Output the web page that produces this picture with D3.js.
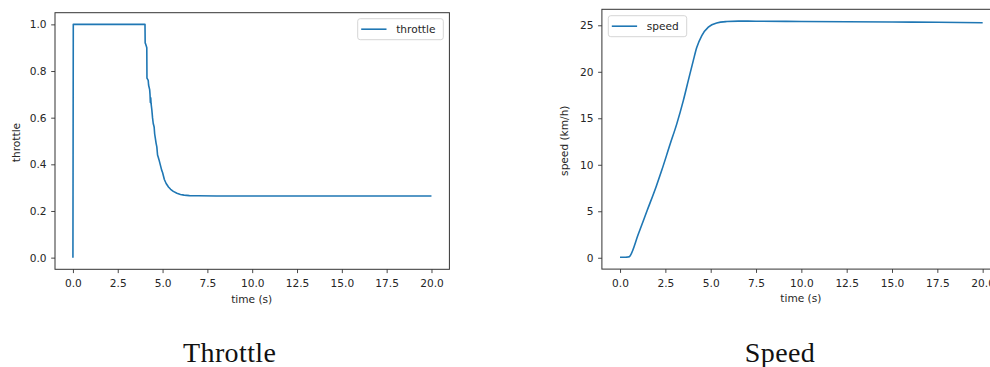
<!DOCTYPE html>
<html><head><meta charset="utf-8">
<script src="https://cdn.jsdelivr.net/npm/d3@7"></script>
<style>
html,body{margin:0;padding:0;background:#fff;overflow:hidden;}
svg{display:block;font-family:"DejaVu Sans",sans-serif;}
</style></head><body>
<svg id="fig" width="990" height="367"></svg>
<script>
// Throttle command over the run (s, fraction 0..1)
const throttleTime = [0, 0.02, 4.02, 4.03, 4.06, 4.10, 4.12, 4.13, 4.20, 4.22, 4.28, 4.30, 4.32, 4.34, 4.36,
  4.40, 4.44, 4.48, 4.53, 4.56, 4.60, 4.64, 4.68, 4.72, 4.76, 4.80, 4.85, 4.90, 4.95, 5.00, 5.05, 5.10,
  5.20, 5.33, 5.45, 5.60, 5.80, 6.00, 6.20, 6.50, 7.00, 8.00, 20.0];
const throttleValues = [0, 1, 1, 0.92, 0.915, 0.905, 0.90, 0.77, 0.76, 0.74, 0.72, 0.70, 0.665, 0.685, 0.66,
  0.635, 0.60, 0.575, 0.56, 0.53, 0.51, 0.49, 0.475, 0.44, 0.43, 0.42, 0.405, 0.39, 0.375, 0.365, 0.35, 0.335,
  0.318, 0.303, 0.293, 0.284, 0.276, 0.271, 0.268, 0.266, 0.265, 0.2645, 0.264];

// Vehicle speed over the run (s, km/h)
const speedTime = [0, 0.2, 0.4, 0.5, 0.55, 1.0, 1.5, 2.0, 2.3, 2.76, 3.13, 3.49, 3.77, 4.04, 4.23, 4.51,
  4.87, 5.33, 5.89, 6.53, 7.5, 10, 12.5, 15, 17.5, 20];
const speedValues = [0.05, 0.05, 0.07, 0.1, 0.2, 2.5, 5.1, 7.7, 9.4, 12.2, 14.4, 16.9, 19.1, 21.2, 22.6, 23.9,
  24.8, 25.25, 25.4, 25.45, 25.44, 25.41, 25.38, 25.35, 25.32, 25.28];

const timeTicks = [0, 2.5, 5, 7.5, 10, 12.5, 15, 17.5, 20];
const throttleTicks = [0, 0.2, 0.4, 0.6, 0.8, 1.0];
const speedTicks = [0, 5, 10, 15, 20, 25];

const lineColor = "#1f77b4";
const fontSize = 10.6;

const svg = d3.select("#fig");

const panels = [
  {
    time: throttleTime, values: throttleValues, yTicks: throttleTicks, yFormat: d3.format(".1f"),
    yLabel: "throttle", legend: "throttle", title: "Throttle", curve: d3.curveLinear,
    box: {left: 55, right: 449.4, top: 12.7, bottom: 269.3},
    legendBox: {x: 357.7, y: 18.7, w: 85.6, h: 21}, labelX: 20.3, titleX: 229.7
  },
  {
    time: speedTime, values: speedValues, yTicks: speedTicks, yFormat: d3.format("d"),
    yLabel: "speed (km/h)", legend: "speed", title: "Speed", curve: d3.curveMonotoneX,
    box: {left: 601.9, right: 1000.8, top: 9.3, bottom: 269.1},
    legendBox: {x: 608.3, y: 15.7, w: 78.4, h: 21}, labelX: 568.3, titleX: 780
  }
];

// Pad a data extent by 5% on each side, like the usual auto-limits
function padded(ext) {
  const m = (ext[1] - ext[0]) * 0.05;
  return [ext[0] - m, ext[1] + m];
}

panels.forEach(p => {
  const b = p.box;
  const x = d3.scaleLinear().domain(padded(d3.extent(p.time))).range([b.left, b.right]);
  const y = d3.scaleLinear().domain(padded(d3.extent(p.values))).range([b.bottom, b.top]);

  const g = svg.append("g");

  // data line
  const pts = p.time.map((t, i) => [t, p.values[i]]);
  g.append("path")
    .datum(pts)
    .attr("fill", "none")
    .attr("stroke", lineColor)
    .attr("stroke-width", 1.6)
    .attr("stroke-linejoin", "round")
    .attr("d", d3.line().x(d => x(d[0])).y(d => y(d[1])).curve(p.curve));

  // bottom axis
  const xa = g.append("g").attr("transform", `translate(0,${b.bottom})`)
    .call(d3.axisBottom(x).tickValues(timeTicks).tickFormat(d3.format(".1f"))
      .tickSize(3.8).tickPadding(3.8).tickSizeOuter(0));
  xa.select(".domain").remove();
  xa.selectAll("line").attr("stroke", "#333").attr("stroke-width", 0.9);
  xa.selectAll("text").attr("font-size", fontSize).attr("font-family", "DejaVu Sans")
    .attr("fill", "#262626").attr("dy", null).attr("y", 17.6);

  // left axis
  const ya = g.append("g").attr("transform", `translate(${b.left},0)`)
    .call(d3.axisLeft(y).tickValues(p.yTicks).tickFormat(p.yFormat)
      .tickSize(3.8).tickPadding(4.6).tickSizeOuter(0));
  ya.select(".domain").remove();
  ya.selectAll("line").attr("stroke", "#333").attr("stroke-width", 0.9);
  ya.selectAll("text").attr("font-size", fontSize).attr("font-family", "DejaVu Sans")
    .attr("fill", "#262626");

  // frame
  g.append("rect")
    .attr("x", b.left).attr("y", b.top)
    .attr("width", b.right - b.left).attr("height", b.bottom - b.top)
    .attr("fill", "none").attr("stroke", "#333").attr("stroke-width", 1);

  // axis labels
  g.append("text")
    .attr("x", (b.left + b.right) / 2 - 0.5).attr("y", b.bottom + 33.3)
    .attr("text-anchor", "middle").attr("font-size", fontSize).attr("fill", "#262626")
    .text("time (s)");
  g.append("text")
    .attr("transform", `translate(${p.labelX},${(b.top + b.bottom) / 2 + 1.5}) rotate(-90)`)
    .attr("text-anchor", "middle").attr("font-size", fontSize).attr("fill", "#262626")
    .text(p.yLabel);

  // legend
  const lb = p.legendBox;
  const lg = g.append("g");
  lg.append("rect")
    .attr("x", lb.x).attr("y", lb.y).attr("width", lb.w).attr("height", lb.h)
    .attr("rx", 2.5).attr("fill", "#fff").attr("fill-opacity", 0.8)
    .attr("stroke", "#d6d6d6").attr("stroke-width", 1);
  const ly = lb.y + lb.h / 2;
  lg.append("line")
    .attr("x1", lb.x + 3.5).attr("x2", lb.x + 28.8).attr("y1", ly).attr("y2", ly)
    .attr("stroke", lineColor).attr("stroke-width", 1.6);
  lg.append("text")
    .attr("x", lb.x + 38.5).attr("y", ly + 3.8)
    .attr("font-size", fontSize).attr("fill", "#262626")
    .text(p.legend);

  // caption below the panel
  svg.append("text")
    .attr("x", p.titleX).attr("y", 362)
    .attr("text-anchor", "middle")
    .attr("font-family", "'Liberation Serif', 'DejaVu Serif', serif")
    .attr("font-size", 28).attr("letter-spacing", 0.4).attr("fill", "#111")
    .text(p.title);
});
</script>
</body></html>
